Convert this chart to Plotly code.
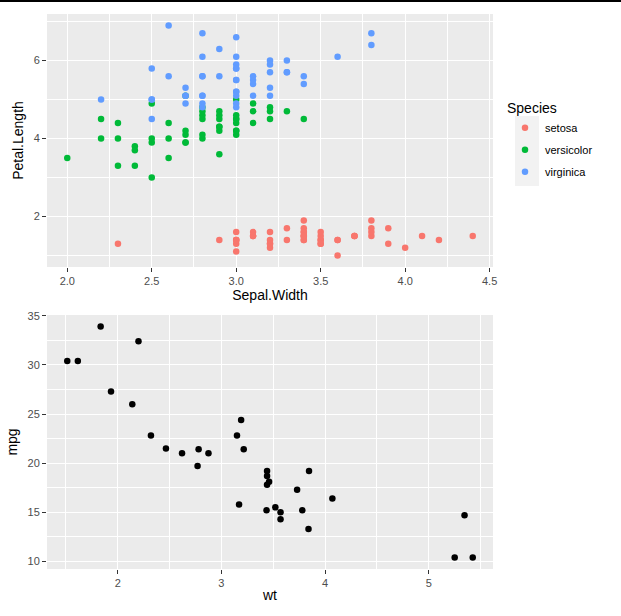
import plotly.graph_objects as go

# iris: Sepal.Width vs Petal.Length by species
setosa_sw = [3.5, 3.0, 3.2, 3.1, 3.6, 3.9, 3.4, 3.4, 2.9, 3.1, 3.7, 3.4, 3.0, 3.0, 4.0, 4.4, 3.9, 3.5, 3.8, 3.8, 3.4, 3.7, 3.6, 3.3, 3.4,
             3.0, 3.4, 3.5, 3.4, 3.2, 3.1, 3.4, 4.1, 4.2, 3.1, 3.2, 3.5, 3.6, 3.0, 3.4, 3.5, 2.3, 3.2, 3.5, 3.8, 3.0, 3.8, 3.2, 3.7, 3.3]
setosa_pl = [1.4, 1.4, 1.3, 1.5, 1.4, 1.7, 1.4, 1.5, 1.4, 1.5, 1.5, 1.6, 1.4, 1.1, 1.2, 1.5, 1.3, 1.4, 1.7, 1.5, 1.7, 1.5, 1.0, 1.7, 1.9,
             1.6, 1.6, 1.5, 1.4, 1.6, 1.6, 1.5, 1.5, 1.4, 1.5, 1.2, 1.3, 1.4, 1.3, 1.5, 1.3, 1.3, 1.3, 1.6, 1.9, 1.4, 1.6, 1.4, 1.5, 1.4]
versicolor_sw = [3.2, 3.2, 3.1, 2.3, 2.8, 2.8, 3.3, 2.4, 2.9, 2.7, 2.0, 3.0, 2.2, 2.9, 2.9, 3.1, 3.0, 2.7, 2.2, 2.5, 3.2, 2.8, 2.5, 2.8, 2.9,
                 3.0, 2.8, 3.0, 2.9, 2.6, 2.4, 2.4, 2.7, 2.7, 3.0, 3.4, 3.1, 2.3, 3.0, 2.5, 2.6, 3.0, 2.6, 2.3, 2.7, 3.0, 2.9, 2.9, 2.5, 2.8]
versicolor_pl = [4.7, 4.5, 4.9, 4.0, 4.6, 4.5, 4.7, 3.3, 4.6, 3.9, 3.5, 4.2, 4.0, 4.7, 3.6, 4.4, 4.5, 4.1, 4.5, 3.9, 4.8, 4.0, 4.9, 4.7, 4.3,
                 4.4, 4.8, 5.0, 4.5, 3.5, 3.8, 3.7, 3.9, 5.1, 4.5, 4.5, 4.7, 4.4, 4.1, 4.0, 4.4, 4.6, 4.0, 3.3, 4.2, 4.2, 4.2, 4.3, 3.0, 4.1]
virginica_sw = [3.3, 2.7, 3.0, 2.9, 3.0, 3.0, 2.5, 2.9, 2.5, 3.6, 3.2, 2.7, 3.0, 2.5, 2.8, 3.2, 3.0, 3.8, 2.6, 2.2, 3.2, 2.8, 2.8, 2.7, 3.3,
                3.2, 2.8, 3.0, 2.8, 3.0, 2.8, 3.8, 2.8, 2.8, 2.6, 3.0, 3.4, 3.1, 3.0, 3.1, 3.1, 3.1, 2.7, 3.2, 3.3, 3.0, 2.5, 3.0, 3.4, 3.0]
virginica_pl = [6.0, 5.1, 5.9, 5.6, 5.8, 6.6, 4.5, 6.3, 5.8, 6.1, 5.1, 5.3, 5.5, 5.0, 5.1, 5.3, 5.5, 6.7, 6.9, 5.0, 5.7, 4.9, 6.7, 4.9, 5.7,
                6.0, 4.8, 4.9, 5.6, 5.8, 6.1, 6.4, 5.6, 5.1, 5.6, 6.1, 5.6, 5.5, 4.8, 5.4, 5.6, 5.1, 5.1, 5.9, 5.7, 5.2, 5.0, 5.2, 5.4, 5.1]

# mtcars: wt vs mpg
wt = [2.620, 2.875, 2.320, 3.215, 3.440, 3.460, 3.570, 3.190, 3.150, 3.440, 3.440, 4.070, 3.730, 3.780, 5.250, 5.424,
      5.345, 2.200, 1.615, 1.835, 2.465, 3.520, 3.435, 3.840, 3.845, 1.935, 2.140, 1.513, 3.170, 2.770, 3.570, 2.780]
mpg = [21.0, 21.0, 22.8, 21.4, 18.7, 18.1, 14.3, 24.4, 22.8, 19.2, 17.8, 16.4, 17.3, 15.2, 10.4, 10.4,
       14.7, 32.4, 30.4, 33.9, 21.5, 15.5, 15.2, 13.3, 19.2, 27.3, 26.0, 30.4, 15.8, 19.7, 15.0, 21.4]

species = [("setosa", setosa_sw, setosa_pl, "#F8766D"),
           ("versicolor", versicolor_sw, versicolor_pl, "#00BA38"),
           ("virginica", virginica_sw, virginica_pl, "#619CFF")]

W, H = 621, 616
FONT = "Liberation Sans, Arial, sans-serif"

fig = go.Figure()
for name, sw, pl, col in species:
    fig.add_trace(go.Scatter(x=sw, y=pl, mode="markers", name=name, legendgroup=name,
                             marker=dict(color=col, size=6.5), xaxis="x", yaxis="y"))
fig.add_trace(go.Scatter(x=wt, y=mpg, mode="markers", showlegend=False,
                         marker=dict(color="black", size=6.5), xaxis="x2", yaxis="y2"))

ax = dict(showgrid=True, gridcolor="white", gridwidth=1.1,
          ticks="outside", ticklen=4, tickcolor="#333333", tickwidth=1,
          tickfont=dict(size=11, color="#4d4d4d"), zeroline=False, showline=False,
          title_font=dict(size=14, color="black"), automargin=False)

def px_x(a, b):
    return [a / W, b / W]

def px_y(top, bottom):
    return [1 - bottom / H, 1 - top / H]

fig.update_layout(
    width=W, height=H,
    margin=dict(l=0, r=0, t=0, b=0),
    paper_bgcolor="white", plot_bgcolor="#EBEBEB",
    font=dict(family=FONT),
    xaxis=dict(ax, domain=px_x(47, 493), anchor="y", range=[1.88, 4.52],
               tickvals=[2.0, 2.5, 3.0, 3.5, 4.0, 4.5], ticktext=["2.0", "2.5", "3.0", "3.5", "4.0", "4.5"],
               minor=dict(tickvals=[2.25, 2.75, 3.25, 3.75, 4.25], gridcolor="white", gridwidth=0.5, ticks=""),
               title=dict(text="Sepal.Width", standoff=3)),
    yaxis=dict(ax, domain=px_y(14, 267), anchor="x", range=[0.705, 7.195],
               tickvals=[2, 4, 6],
               minor=dict(tickvals=[1, 3, 5, 7], gridcolor="white", gridwidth=0.5, ticks=""),
               title=dict(text="Petal.Length", standoff=6)),
    xaxis2=dict(ax, domain=px_x(47, 493), anchor="y2", range=[1.3175, 5.6195],
                tickvals=[2, 3, 4, 5],
                minor=dict(tickvals=[1.5, 2.5, 3.5, 4.5, 5.5], gridcolor="white", gridwidth=0.5, ticks=""),
                title=dict(text="wt", standoff=1)),
    yaxis2=dict(ax, domain=px_y(315, 569), anchor="x2", range=[9.225, 35.075],
                tickvals=[10, 15, 20, 25, 30, 35],
                minor=dict(tickvals=[12.5, 17.5, 22.5, 27.5, 32.5], gridcolor="white", gridwidth=0.5, ticks=""),
                title=dict(text="mpg", standoff=6)),
    legend=dict(x=505 / W, y=1 - 95 / H, xanchor="left", yanchor="top",
                bgcolor="rgba(0,0,0,0)", font=dict(size=11, color="black"),
                title=dict(text="Species", font=dict(size=14, color="black")),
                itemsizing="trace", tracegroupgap=3),
    shapes=[
        dict(type="rect", xref="paper", yref="paper",
             x0=515 / W, x1=539 / W, y0=1 - 186 / H, y1=1 - 116 / H,
             fillcolor="#F2F2F2", line=dict(width=0), layer="below"),
        dict(type="line", xref="paper", yref="paper", x0=0, x1=1, y0=1 - 1 / H, y1=1 - 1 / H,
             line=dict(color="black", width=2)),
    ],
)

# drop the browser's default 8px body margin so the figure sits at the page corner
fig.write_html("out.html", config={"displayModeBar": False},
               post_script="document.body.style.margin='0px';")
